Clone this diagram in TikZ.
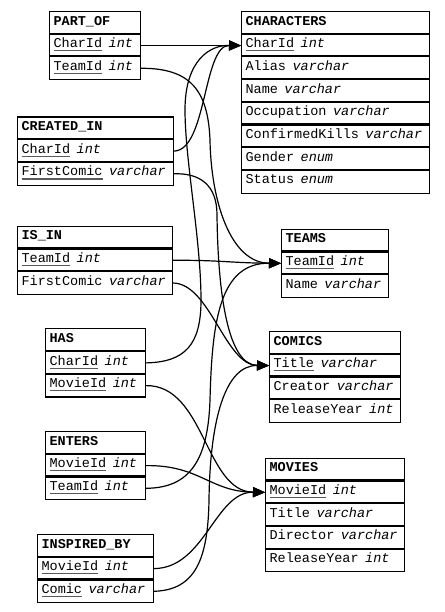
\documentclass[tikz,border=0pt]{standalone}
\usepackage{fontspec}
\setmainfont{Liberation Mono}
\usetikzlibrary{arrows.meta}

% key column: name underlined with a thin grey rule
\newcommand\keyf[1]{\setbox0=\hbox{#1}\rlap{\color{black!65}\rule[-3.6pt]{\wd0}{1.1pt}}\box0\relax}
% column type in italics
\newcommand\ty[1]{\hspace{2pt}\textit{#1}}

% table header: name, x, y, width, title
\newcommand\ertab[5]{%
  \def\curname{#1}\def\curx{#2}\def\cury{#3}%
  \pgfmathsetmacro\curtw{#4-8}%
  \node[cell,text width=\curtw pt] (#1-0) at (#2,#3) {\bfseries #5};}
% table row: index, text
\newcommand\errow[2]{%
  \pgfmathsetmacro\rowy{\cury+#1*22.7}%
  \node[cell,text width=\curtw pt] (\curname-#1) at (\curx,\rowy) {#2};
  \draw[divider] (\curname-#1.north west) -- (\curname-#1.north east);}

\begin{document}
\begin{tikzpicture}[x=1pt,y=-1pt,
  font=\fontsize{13.5}{16}\selectfont,
  cell/.style={draw, line width=1.1pt, anchor=north west, minimum height=22.7pt,
    inner xsep=4pt, inner ysep=0pt, text height=8.2pt, text depth=3.8pt, align=left},
  divider/.style={line width=2pt},
  fk/.style={draw, line width=1.2pt, -{Triangle[length=12pt,width=10pt]}}]

\fill[white] (0,0) rectangle (444,612);
\useasboundingbox (0,0) rectangle (444,612);

% ---- tables ----
\ertab{po}{49}{11}{91}{PART\_OF}
\errow{1}{\keyf{CharId} \ty{int}}
\errow{2}{\keyf{TeamId} \ty{int}}

\ertab{ch}{241}{11}{188}{CHARACTERS}
\errow{1}{\keyf{CharId} \ty{int}}
\errow{2}{Alias \ty{varchar}}
\errow{3}{Name \ty{varchar}}
\errow{4}{Occupation \ty{varchar}}
\errow{5}{ConfirmedKills \ty{varchar}}
\errow{6}{Gender \ty{enum}}
\errow{7}{Status \ty{enum}}

\ertab{ci}{17}{116.5}{156}{CREATED\_IN}
\errow{1}{\keyf{CharId} \ty{int}}
\errow{2}{\keyf{FirstComic} \ty{varchar}}

\ertab{ii}{17}{225.7}{154.5}{IS\_IN}
\errow{1}{\keyf{TeamId} \ty{int}}
\errow{2}{FirstComic \ty{varchar}}

\ertab{tm}{281}{228.7}{107}{TEAMS}
\errow{1}{\keyf{TeamId} \ty{int}}
\errow{2}{Name \ty{varchar}}

\ertab{ha}{45}{328.3}{100}{HAS}
\errow{1}{\keyf{CharId} \ty{int}}
\errow{2}{\keyf{MovieId} \ty{int}}

\ertab{co}{269}{331}{131}{COMICS}
\errow{1}{\keyf{Title} \ty{varchar}}
\errow{2}{Creator \ty{varchar}}
\errow{3}{ReleaseYear \ty{int}}

\ertab{en}{45}{431}{100}{ENTERS}
\errow{1}{\keyf{MovieId} \ty{int}}
\errow{2}{\keyf{TeamId} \ty{int}}

\ertab{mo}{265}{457.7}{139}{MOVIES}
\errow{1}{\keyf{MovieId} \ty{int}}
\errow{2}{Title \ty{varchar}}
\errow{3}{Director \ty{varchar}}
\errow{4}{ReleaseYear \ty{int}}

\ertab{ib}{37}{534}{116}{INSPIRED\_BY}
\errow{1}{\keyf{MovieId} \ty{int}}
\errow{2}{\keyf{Comic} \ty{varchar}}

% ---- foreign keys ----
\draw[fk] (po-1.east) -- (ch-1.west);
\draw[fk] (po-2.east) .. controls (190,68) and (208,90) .. (210,140)
  .. controls (211,200) and (230,263) .. (tm-1.west);
\draw[fk] (ci-1.east) .. controls (207,150) and (203,45) .. (ch-1.west);
\draw[fk] (ci-2.east) .. controls (200,173) and (217,185) .. (217,215)
  .. controls (218,295) and (228,365) .. (co-1.west);
\draw[fk] (ii-1.east) .. controls (220,260) and (232,263) .. (tm-1.west);
\draw[fk] (ii-2.east) .. controls (210,283) and (225,365) .. (co-1.west);
\draw[fk] (ha-1.east) .. controls (185,362) and (201,345) .. (201,300)
  .. controls (201,240) and (185,160) .. (185,110)
  .. controls (185,60) and (210,45) .. (ch-1.west);
\draw[fk] (ha-2.east) .. controls (205,385) and (205,491.7) .. (mo-1.west);
\draw[fk] (en-1.east) .. controls (200,465) and (210,491.7) .. (mo-1.west);
\draw[fk] (en-2.east) .. controls (190,488) and (208,460) .. (210,400)
  .. controls (212,320) and (220,262.7) .. (tm-1.west);
\draw[fk] (ib-1.east) .. controls (205,568) and (215,491.7) .. (mo-1.west);
\draw[fk] (ib-2.east) .. controls (195,590) and (208,560) .. (209,500)
  .. controls (210,420) and (225,365) .. (co-1.west);
\end{tikzpicture}
\end{document}
